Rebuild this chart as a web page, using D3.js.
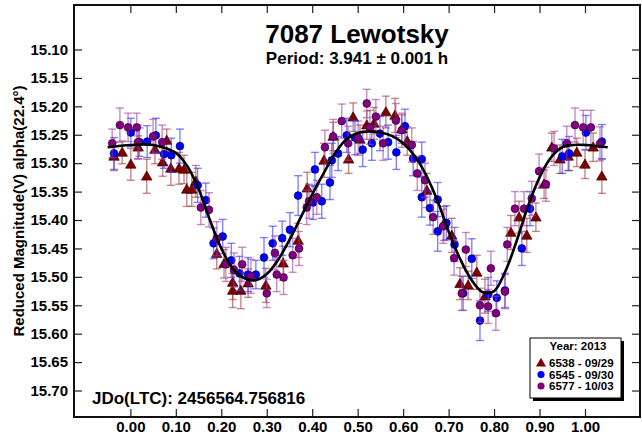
<!DOCTYPE html>
<html>
<head>
<meta charset="utf-8">
<script src="https://cdn.jsdelivr.net/npm/d3@7"></script>
<style>
  body { margin: 0; background: #fff; }
  text { font-family: "Liberation Sans", Arial, sans-serif; font-weight: bold; }
</style>
</head>
<body>
<svg id="chart" width="642" height="437"></svg>
<script>
// Lightcurve of 7087 Lewotsky, phased at P = 3.941 h

const xTicks = [0, 0.1, 0.2, 0.3, 0.4, 0.5, 0.6, 0.7, 0.8, 0.9, 1.0];
const yTicks = [15.10, 15.15, 15.20, 15.25, 15.30, 15.35, 15.40, 15.45, 15.50, 15.55, 15.60, 15.65, 15.70];

const seriesNames = ['6538 - 09/29', '6545 - 09/30', '6577 - 10/03'];

// [phase, reduced mag, error]
const redPoints = [
  [-0.036,15.288,.025],[-0.018,15.281,.02],[0.001,15.302,.028],[0.017,15.272,.02],[0.036,15.323,.03],
  [0.054,15.276,.025],[0.071,15.298,.025],[0.08,15.26,.02],[0.089,15.309,.03],[0.107,15.309,.028],
  [0.118,15.311,.025],[0.124,15.346,.03],[0.135,15.346,.03],[0.144,15.332,.028],[0.19,15.459,.027],
  [0.206,15.477,.025],[0.225,15.51,.03],[0.225,15.524,.03],[0.243,15.524,.032],[0.259,15.511,.025],
  [0.298,15.515,.03],[0.336,15.476,.03],[0.369,15.436,.03],[0.389,15.344,.028],[0.426,15.295,.03],
  [0.446,15.253,.025],[0.48,15.293,.025],[0.49,15.219,.025],[0.505,15.258,.025],[0.52,15.233,.025],
  [0.536,15.23,.028],[0.562,15.21,.028],[0.582,15.216,.03],[0.597,15.24,.025],[0.609,15.261,.025],
  [0.652,15.348,.03],[0.69,15.406,.03],[0.707,15.427,.03],[0.725,15.512,.028],[0.743,15.515,.025],
  [0.762,15.492,.03],[0.78,15.534,.03],[0.837,15.422,.03],[0.855,15.395,.028],[0.872,15.427,.03],
  [0.892,15.395,.025],[0.91,15.337,.025],[0.927,15.272,.025],[0.945,15.293,.025],[0.963,15.288,.025],
  [0.982,15.281,.025],[1.0,15.302,.025],[1.018,15.272,.025],[1.037,15.323,.03]
];

const bluePoints = [
  [-0.036,15.283,.028],[0.001,15.246,.025],[0.02,15.263,.025],[0.037,15.262,.028],[0.056,15.251,.03],
  [0.074,15.284,.025],[0.09,15.286,.03],[0.109,15.27,.03],[0.148,15.339,.03],[0.166,15.365,.03],
  [0.183,15.441,.027],[0.203,15.429,.03],[0.222,15.471,.03],[0.24,15.494,.03],[0.259,15.496,.03],
  [0.276,15.496,.025],[0.294,15.466,.035],[0.313,15.441,.03],[0.334,15.432,.03],[0.351,15.417,.03],
  [0.369,15.357,.035],[0.402,15.369,.03],[0.406,15.311,.03],[0.421,15.367,.03],[0.439,15.334,.03],
  [0.443,15.295,.03],[0.457,15.283,.03],[0.476,15.251,.03],[0.494,15.255,.03],[0.511,15.276,.03],
  [0.531,15.265,.03],[0.549,15.248,.03],[0.567,15.263,.03],[0.585,15.281,.03],[0.604,15.235,.03],
  [0.622,15.292,.03],[0.641,15.293,.03],[0.641,15.36,.035],[0.659,15.379,.03],[0.676,15.364,.03],
  [0.676,15.42,.035],[0.695,15.405,.03],[0.713,15.443,.03],[0.732,15.529,.03],[0.751,15.468,.035],
  [0.769,15.577,.035],[0.787,15.531,.03],[0.806,15.537,.03],[0.824,15.524,.03],[0.861,15.45,.03],
  [0.879,15.38,.03],[0.95,15.288,.03],[0.965,15.283,.03],[1.002,15.246,.03],[1.037,15.262,.03]
];

const purplePoints = [
  [-0.04,15.265,.025],[-0.023,15.233,.03],[-0.005,15.237,.025],[0.014,15.237,.025],[0.017,15.263,.03],
  [0.05,15.253,.03],[0.07,15.263,.03],[0.155,15.378,.03],[0.173,15.382,.03],[0.19,15.433,.03],
  [0.21,15.478,.03],[0.228,15.488,.03],[0.246,15.478,.03],[0.265,15.499,.03],[0.3,15.529,.025],
  [0.318,15.458,.03],[0.322,15.496,.03],[0.337,15.501,.03],[0.357,15.462,.03],[0.371,15.45,.03],
  [0.388,15.378,.03],[0.393,15.367,.03],[0.41,15.36,.03],[0.428,15.272,.03],[0.446,15.253,.03],
  [0.465,15.226,.03],[0.479,15.265,.03],[0.501,15.256,.03],[0.52,15.195,.025],[0.527,15.237,.03],
  [0.54,15.218,.03],[0.556,15.265,.03],[0.584,15.225,.03],[0.597,15.242,.03],[0.619,15.268,.03],
  [0.631,15.318,.03],[0.648,15.33,.03],[0.666,15.395,.03],[0.688,15.411,.03],[0.712,15.467,.03],
  [0.738,15.452,.03],[0.729,15.529,.03],[0.769,15.55,.03],[0.787,15.552,.03],[0.793,15.485,.03],
  [0.804,15.564,.03],[0.824,15.526,.03],[0.829,15.443,.03],[0.846,15.38,.03],[0.866,15.38,.03],
  [0.883,15.362,.03],[0.899,15.314,.03],[0.914,15.337,.03],[0.932,15.274,.03],[0.96,15.265,.03],
  [0.978,15.233,.03],[0.996,15.237,.03],[1.013,15.237,.03],[1.033,15.266,.03]
];

// fitted Fourier curve
const curvePhase = [-0.05,0,0.05,0.1,0.125,0.15,0.175,0.2,0.225,0.25,0.275,0.3,0.325,0.35,0.375,0.4,
  0.425,0.45,0.475,0.5,0.525,0.55,0.575,0.6,0.625,0.65,0.675,0.7,0.725,0.75,0.775,0.8,0.825,0.85,
  0.875,0.9,0.925,0.95,0.975,1.0,1.05];
const curveMag = [15.272,15.268,15.268,15.282,15.305,15.345,15.400,15.450,15.485,15.502,15.506,15.495,
  15.470,15.435,15.395,15.355,15.318,15.283,15.258,15.247,15.244,15.246,15.252,15.265,15.287,15.320,
  15.365,15.420,15.468,15.505,15.527,15.525,15.490,15.436,15.375,15.325,15.290,15.272,15.268,15.268,15.272];

const series = [
  {name: seriesNames[0], points: redPoints, color: '#800000', bar: '#a03838', stroke: '#3a0000', shape: 'tri'},
  {name: seriesNames[1], points: bluePoints, color: '#0000ff', bar: '#3030ff', stroke: '#000070', shape: 'circle'},
  {name: seriesNames[2], points: purplePoints, color: '#800080', bar: '#a040a0', stroke: '#3a003a', shape: 'circle'}
];

const svg = d3.select('#chart');
const frame = {left: 74, right: 640, top: 5, bottom: 417};

const x = d3.scaleLinear().domain([-0.124, 1.121]).range([frame.left, frame.right]);
const y = d3.scaleLinear().domain([15.0217, 15.7466]).range([frame.top, frame.bottom]);

// Axes (ticks pointing inward)
const fmt = d3.format('.2f');
svg.append('g')
  .attr('transform', `translate(0,${frame.bottom})`)
  .call(d3.axisBottom(x).tickValues(xTicks).tickFormat(fmt).tickSizeInner(-8).tickSizeOuter(0).tickPadding(4))
  .call(g => g.select('.domain').remove());
svg.append('g')
  .attr('transform', `translate(0,${frame.top})`)
  .call(d3.axisTop(x).tickValues(xTicks).tickFormat('').tickSizeInner(-8).tickSizeOuter(0))
  .call(g => g.select('.domain').remove());
svg.append('g')
  .attr('transform', `translate(${frame.left},0)`)
  .call(d3.axisLeft(y).tickValues(yTicks).tickFormat(fmt).tickSizeInner(-8).tickSizeOuter(0).tickPadding(6))
  .call(g => g.select('.domain').remove());
svg.append('g')
  .attr('transform', `translate(${frame.right},0)`)
  .call(d3.axisRight(y).tickValues(yTicks).tickFormat('').tickSizeInner(-8).tickSizeOuter(0))
  .call(g => g.select('.domain').remove());

svg.selectAll('.tick line').attr('stroke', '#222').attr('stroke-width', 1.2);
svg.selectAll('.tick text')
  .attr('font-size', '15px')
  .attr('font-family', '"Liberation Sans", Arial, sans-serif')
  .attr('font-weight', 'bold')
  .attr('fill', '#000');

// Data marks
const plot = svg.append('g');

series.forEach(s => {
  const g = plot.append('g');
  const bars = g.selectAll('g.err').data(s.points).enter().append('g')
    .attr('stroke', s.bar).attr('stroke-opacity', 0.6).attr('stroke-width', 1.4);
  bars.append('line')
    .attr('x1', d => x(d[0])).attr('x2', d => x(d[0]))
    .attr('y1', d => y(d[1] - d[2])).attr('y2', d => y(d[1] + d[2]));
  bars.append('line')
    .attr('x1', d => x(d[0]) - 4).attr('x2', d => x(d[0]) + 4)
    .attr('y1', d => y(d[1] - d[2])).attr('y2', d => y(d[1] - d[2]));
  bars.append('line')
    .attr('x1', d => x(d[0]) - 4).attr('x2', d => x(d[0]) + 4)
    .attr('y1', d => y(d[1] + d[2])).attr('y2', d => y(d[1] + d[2]));

  if (s.shape === 'tri') {
    g.selectAll('path.pt').data(s.points).enter().append('path')
      .attr('d', d3.symbol(d3.symbolTriangle, 48))
      .attr('transform', d => `translate(${x(d[0])},${y(d[1]) + 0.8})`)
      .attr('fill', s.color).attr('stroke', s.stroke).attr('stroke-width', 0.7);
  } else {
    g.selectAll('circle.pt').data(s.points).enter().append('circle')
      .attr('cx', d => x(d[0])).attr('cy', d => y(d[1])).attr('r', 3.9)
      .attr('fill', s.color).attr('stroke', s.stroke).attr('stroke-width', 0.7);
  }
});

// Fitted curve
const curve = curvePhase.map((p, i) => [p, curveMag[i]]);
plot.append('path')
  .datum(curve)
  .attr('d', d3.line().x(d => x(d[0])).y(d => y(d[1])).curve(d3.curveCatmullRom))
  .attr('fill', 'none')
  .attr('stroke', '#000')
  .attr('stroke-width', 2.6);

// Frame
svg.append('rect')
  .attr('x', frame.left).attr('y', frame.top)
  .attr('width', frame.right - frame.left).attr('height', frame.bottom - frame.top)
  .attr('fill', 'none').attr('stroke', '#111').attr('stroke-width', 2);

// Titles
svg.append('text').attr('x', 357).attr('y', 43).attr('text-anchor', 'middle')
  .attr('font-size', '26px').text('7087 Lewotsky');
svg.append('text').attr('x', 357).attr('y', 64).attr('text-anchor', 'middle')
  .attr('font-size', '17px').text('Period: 3.941 ± 0.001 h');
svg.append('text').attr('x', 92).attr('y', 404)
  .attr('font-size', '17px').text('JDo(LTC): 2456564.756816');
svg.append('text')
  .attr('transform', 'translate(24,211) rotate(-90)')
  .attr('text-anchor', 'middle')
  .attr('font-size', '15px')
  .text('Reduced Magnitude(V) alpha(22.4°)');

// Legend
const legend = svg.append('g').attr('transform', 'translate(530,338)');
legend.append('rect').attr('x', 3).attr('y', 3).attr('width', 91).attr('height', 60).attr('fill', '#000');
legend.append('rect').attr('width', 91).attr('height', 60).attr('fill', '#fff')
  .attr('stroke', '#000').attr('stroke-width', 1);
legend.append('text').attr('x', 48).attr('y', 12).attr('text-anchor', 'middle')
  .attr('font-size', '11.5px').text('Year: 2013');
series.forEach((s, i) => {
  const yy = 25 + i * 11.5;
  if (s.shape === 'tri') {
    legend.append('path').attr('d', d3.symbol(d3.symbolTriangle, 44))
      .attr('transform', `translate(11,${yy + 0.5})`).attr('fill', s.color);
  } else {
    legend.append('circle').attr('cx', 11).attr('cy', yy).attr('r', 3.6).attr('fill', s.color);
  }
  legend.append('text').attr('x', 19).attr('y', yy + 4)
    .attr('font-size', '11.5px').text(s.name);
});
</script>
</body>
</html>
